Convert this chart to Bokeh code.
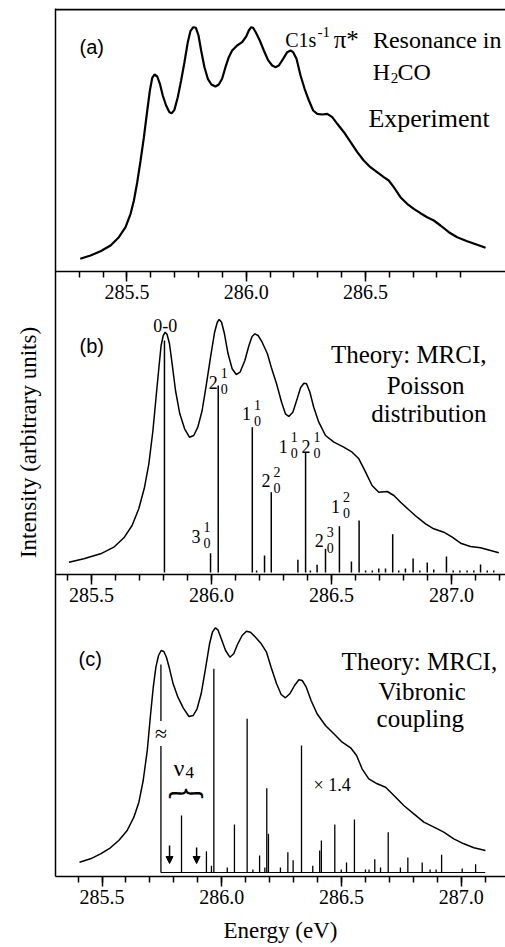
from bokeh.plotting import figure
from bokeh.models import (Range1d, LinearAxis, SingleIntervalTicker, PrintfTickFormatter,
                          FixedTicker, Span, Label, Arrow, NormalHead, ColumnDataSource)
from bokeh.embed import file_html
from bokeh.resources import INLINE
from bokeh.core.properties import value

# ---------------- data ----------------
# (a) Experiment
exp_energy = [285.304, 285.347, 285.389, 285.431, 285.466, 285.494, 285.515, 285.529, 285.543,
              285.557, 285.571, 285.585, 285.596, 285.606, 285.615, 285.627, 285.638, 285.650,
              285.664, 285.678, 285.688, 285.699, 285.713, 285.727, 285.741, 285.755, 285.766,
              285.778, 285.789, 285.800, 285.811, 285.825, 285.839, 285.854, 285.871, 285.885,
              285.899, 285.913, 285.927, 285.941, 285.962, 285.983, 286.000, 286.011, 286.021,
              286.029, 286.040, 286.057, 286.074, 286.091, 286.109, 286.123, 286.137, 286.155,
              286.172, 286.186, 286.197, 286.211, 286.228, 286.245, 286.263, 286.281, 286.298,
              286.319, 286.340, 286.361, 286.382, 286.410, 286.438, 286.466, 286.493, 286.521,
              286.549, 286.577, 286.598, 286.619, 286.647, 286.675, 286.703, 286.731, 286.759,
              286.787, 286.815, 286.850, 286.885, 286.927, 286.969, 287.004]
exp_intensity = [12.7, 16, 20.3, 26, 34.3, 44.3, 57.7, 71, 89.3,
                 111, 134.3, 161, 181, 193.7, 197, 195, 187.7, 176,
                 166, 159.3, 158.3, 161.7, 174.3, 191, 209.3, 229.3, 240.3,
                 244.3, 243.7, 236, 221, 204.3, 192.7, 187, 185, 187,
                 192.7, 204.3, 214.3, 221, 226, 229.3, 235, 241, 244.3,
                 243.7, 239.3, 231, 221, 211.7, 206, 204.3, 206, 212.7,
                 219.3, 221, 219.3, 212.7, 196, 182.7, 171, 161, 157.7,
                 157, 157.7, 154.3, 147.7, 139.3, 129.3, 119.3, 111, 104.3,
                 99.3, 94.3, 91, 84.3, 74.3, 67.7, 62.7, 58.3, 54.3,
                 51, 46, 39.3, 34.3, 30.3, 26.7, 23.7]

# (b) Theory: MRCI, Poisson distribution
poi_energy = [285.406, 285.468, 285.538, 285.593, 285.635, 285.669, 285.697, 285.721, 285.739,
              285.756, 285.769, 285.781, 285.790, 285.799, 285.807, 285.815, 285.825, 285.836,
              285.850, 285.868, 285.888, 285.908, 285.926, 285.943, 285.961, 285.979, 285.996,
              286.013, 286.024, 286.032, 286.042, 286.054, 286.069, 286.086, 286.103, 286.119,
              286.139, 286.156, 286.169, 286.181, 286.194, 286.211, 286.233, 286.249, 286.271,
              286.292, 286.308, 286.322, 286.339, 286.357, 286.371, 286.385, 286.396, 286.410,
              286.426, 286.447, 286.475, 286.510, 286.551, 286.586, 286.614, 286.642, 286.669,
              286.697, 286.732, 286.760, 286.788, 286.822, 286.857, 286.892, 286.926, 286.968,
              287.003, 287.038, 287.079, 287.121, 287.163, 287.197]
poi_intensity = [10.3, 13.7, 18.7, 25.3, 34.7, 47, 63.7, 85.3, 108.7,
                 142, 175.3, 205.3, 227, 237, 240.3, 238, 228.7, 208.7,
                 182, 158.7, 143.7, 135.3, 137, 145.3, 162, 188.7, 215.3,
                 240.3, 250.3, 253, 250.3, 238.7, 218.7, 203.7, 198, 200.3,
                 212, 227, 236, 238.7, 237, 230.3, 218.7, 205.3, 188.7,
                 170.3, 158.7, 156, 160.3, 173.7, 184.7, 189.3, 188.7, 180.3,
                 165.3, 150.3, 137, 130.3, 125.3, 120.3, 113.7, 100.3, 87,
                 80.3, 81, 77, 70.3, 62.7, 55.3, 48.7, 43.7, 40.3,
                 35.3, 29.3, 26, 24.7, 22, 19.7]
poi_stick_energy = [285.804, 285.996, 286.028, 286.170, 286.188, 286.221, 286.249, 286.360,
                    286.392, 286.412, 286.440, 286.475, 286.533, 286.583, 286.615, 286.642,
                    286.670, 286.697, 286.725, 286.755, 286.780, 286.808, 286.840, 286.868,
                    286.899, 286.926, 286.979, 287.007, 287.035, 287.065, 287.093, 287.121,
                    287.149, 287.176]
poi_stick_height = [232, 19.3, 187, 145.3, 2, 17, 80.3, 12.7,
                    120.3, 2, 7.7, 23.7, 46.3, 11, 52, 2,
                    2, 4, 4, 38.3, 2, 4, 14, 2,
                    10, 3, 16, 2, 2, 2, 2, 8,
                    2, 2]
# progression labels  main_sub^sup
lab_main = ["2", "1", "2", "1", "2", "3", "2", "1"]
lab_sup = ["1", "1", "2", "1", "1", "1", "3", "2"]
lab_sub = ["0", "0", "0", "0", "0", "0", "0", "0"]
lab_energy = [286.026, 286.165, 286.246, 286.318, 286.413, 285.954, 286.468, 286.535]
lab_height = [190.3, 158.7, 92, 126.2, 126.2, 36.2, 32, 66.2]

# (c) Theory: MRCI, Vibronic coupling
vib_energy = [285.406, 285.452, 285.494, 285.535, 285.570, 285.605, 285.633, 285.654, 285.672,
              285.689, 285.703, 285.714, 285.725, 285.736, 285.747, 285.758, 285.769, 285.782,
              285.797, 285.817, 285.839, 285.863, 285.881, 285.897, 285.914, 285.932, 285.949,
              285.961, 285.973, 285.984, 285.998, 286.016, 286.034, 286.050, 286.067, 286.085,
              286.103, 286.120, 286.141, 286.165, 286.187, 286.206, 286.229, 286.248, 286.266,
              286.284, 286.304, 286.322, 286.336, 286.353, 286.373, 286.398, 286.433, 286.468,
              286.503, 286.538, 286.563, 286.586, 286.614, 286.649, 286.684, 286.719, 286.760,
              286.802, 286.844, 286.886, 286.927, 286.969, 287.011, 287.053, 287.101]
vib_intensity = [10.3, 13.7, 18.7, 24.7, 32, 42, 55.3, 70.3, 92,
                 122, 158.7, 185.3, 205.3, 217, 222, 221, 215.3, 203.7,
                 188.7, 175.3, 164.7, 156, 157, 163.7, 178.7, 203.7, 228.7,
                 240.3, 244.7, 242.7, 233.7, 222, 215.3, 218.7, 228.7, 237,
                 241.3, 240.3, 235.3, 228.7, 220.3, 205.3, 188.7, 178, 174.7,
                 178.7, 187, 192.7, 192, 185.3, 172, 158.7, 147, 138.7,
                 130.3, 124.7, 117, 103.7, 93.7, 88.7, 85.3, 77, 67,
                 58.7, 50.3, 45.3, 40.3, 33.7, 28.7, 24.7, 22]
vib_stick_energy = [285.746, 285.832, 285.936, 285.957, 285.967, 286.023, 286.053, 286.106,
                    286.130, 286.158, 286.180, 286.188, 286.195, 286.245, 286.276, 286.298,
                    286.333, 286.380, 286.409, 286.416, 286.472, 286.499, 286.521, 286.554,
                    286.600, 286.615, 286.639, 286.663, 286.695, 286.746, 286.777, 286.837,
                    286.870, 286.895, 286.918, 287.004, 287.060]
vib_stick_height = [208, 57, 21.3, 6.7, 203.7, 5, 48, 153.7,
                    3, 17, 5, 84.3, 38.7, 5, 20.3, 12.3,
                    127, 6.7, 22, 32, 48, 3, 10, 53,
                    3, 3, 13.3, 5, 40.3, 5, 15, 10,
                    3, 3, 17.7, 4, 8.3]
vib_baseline_end = 287.10
nu4_arrow_energy = [285.782, 285.895]

# ---------------- layout constants ----------------
W, H = 505, 947
FRAME_TOP, FRAME_BOTTOM = 8, 876          # page px
BASE_A, BASE_B, BASE_C = 271, 572, 872    # page px of panel baselines


def yband(base):
    return Range1d(start=base - FRAME_BOTTOM, end=base - FRAME_TOP)


xa = Range1d(285.2001, 287.0877)
xb = Range1d(285.35, 287.225)
xc = Range1d(285.3058, 287.1848)

p = figure(width=W, height=H, output_backend="svg", toolbar_location=None,
           x_range=xc, y_range=yband(BASE_C),
           x_axis_location=None, y_axis_location=None,
           min_border_left=55, min_border_right=0, min_border_top=FRAME_TOP,
           min_border_bottom=H - FRAME_BOTTOM)
p.extra_x_ranges = {"xa": xa, "xb": xb}
p.extra_y_ranges = {"ya": yband(BASE_A), "yb": yband(BASE_B)}
p.outline_line_color = None
p.background_fill_color = "white"
p.border_fill_color = "white"
p.grid.visible = False

SERIF = "Liberation Serif"
SANS = "Liberation Sans"


def xaxis(**kw):
    return LinearAxis(ticker=SingleIntervalTicker(interval=0.5, num_minor_ticks=5),
                      formatter=PrintfTickFormatter(format="%.1f"),
                      major_tick_out=10, major_tick_in=0, minor_tick_out=6, minor_tick_in=0,
                      major_tick_line_width=1.5, minor_tick_line_width=1.5,
                      axis_line_width=1.5, axis_line_color="black",
                      major_tick_line_color="black", minor_tick_line_color="black",
                      major_label_text_font=SERIF, major_label_text_font_size="20px",
                      major_label_text_color="black",
                      major_label_standoff=3, **kw)


ax_a = xaxis(x_range_name="xa", y_range_name="ya", fixed_location=0,
             bounds=(285.3, 286.9))
ax_a.axis_line_color = None
ax_b = xaxis(x_range_name="xb", y_range_name="yb", fixed_location=BASE_B - 574)
ax_c = xaxis(axis_label="Energy (eV)", axis_label_text_font=SERIF,
             axis_label_text_font_size="23px", axis_label_text_font_style="normal",
             axis_label_text_color="black", axis_label_standoff=11)
p.add_layout(ax_a, "below")
p.add_layout(ax_b, "below")
p.add_layout(ax_c, "below")

yax = LinearAxis(ticker=FixedTicker(ticks=[]), axis_label="Intensity (arbitrary units)",
                 axis_label_text_font=SERIF, axis_label_text_font_size="23px",
                 axis_label_text_font_style="normal", axis_label_text_color="black",
                 axis_label_standoff=15,
                 axis_line_width=1.5, axis_line_color="black",
                 major_tick_out=0, major_tick_in=0,
                 minor_tick_out=0, minor_tick_in=0, major_label_standoff=0)
p.add_layout(yax, "left")

# frame top line and axis (a) full-width line
p.add_layout(Span(location=BASE_A - FRAME_TOP - 1, dimension="width", y_range_name="ya",
                  line_color="black", line_width=2))
p.add_layout(Span(location=0, dimension="width", y_range_name="ya",
                  line_color="black", line_width=1.5))

# ---------------- panel (a) ----------------
p.line(exp_energy, exp_intensity, x_range_name="xa", y_range_name="ya",
       line_color="black", line_width=2.2)

# ---------------- panel (b) ----------------
p.line(poi_energy, poi_intensity, x_range_name="xb", y_range_name="yb",
       line_color="black", line_width=1.5)
p.segment(x0=poi_stick_energy, y0=[0] * len(poi_stick_energy), x1=poi_stick_energy,
          y1=poi_stick_height, x_range_name="xb", y_range_name="yb",
          line_color="black", line_width=1.5)

lab_src = ColumnDataSource(dict(x=lab_energy, y=lab_height, main=lab_main,
                                sup=lab_sup, sub=lab_sub))
p.text(x="x", y="y", text="main", source=lab_src, x_range_name="xb", y_range_name="yb",
       text_font=value(SERIF), text_font_size="18px", text_align="right",
       text_baseline="middle", text_color="black")
p.text(x="x", y="y", text="sup", source=lab_src, x_range_name="xb", y_range_name="yb",
       text_font=value(SERIF), text_font_size="14px", text_align="left",
       text_baseline="middle", x_offset=3, y_offset=-9, text_color="black")
p.text(x="x", y="y", text="sub", source=lab_src, x_range_name="xb", y_range_name="yb",
       text_font=value(SERIF), text_font_size="14px", text_align="left",
       text_baseline="middle", x_offset=3, y_offset=7, text_color="black")

# ---------------- panel (c) ----------------
p.line(vib_energy, vib_intensity, line_color="black", line_width=1.5)
p.segment(x0=vib_stick_energy, y0=[0] * len(vib_stick_energy), x1=vib_stick_energy,
          y1=vib_stick_height, line_color="black", line_width=1.3)
p.segment(x0=[vib_stick_energy[0]], y0=[0], x1=[vib_baseline_end], y1=[0],
          line_color="black", line_width=1)
arr_src = ColumnDataSource(dict(x=nu4_arrow_energy, y0=[27, 25], y1=[9, 9]))
p.add_layout(Arrow(end=NormalHead(size=7, fill_color="black", line_color="black"),
                   x_start="x", y_start="y0", x_end="x", y_end="y1", source=arr_src,
                   line_color="black", line_width=1.5))


def lab(text, x, y, rx, ry, size, font=SERIF, align="left", baseline="alphabetic", **kw):
    kwargs = {}
    if rx:
        kwargs["x_range_name"] = rx
    if ry:
        kwargs["y_range_name"] = ry
    p.add_layout(Label(x=x, y=y, text=text, text_font=font, text_font_size=size,
                       text_align=align, text_baseline=baseline, text_color="black",
                       **kwargs, **kw))


# panel (a) texts
lab("C1s", 286.294, 231.7, "xa", "ya", "20px", align="right")
lab("(a)", 285.301, 224.3, "xa", "ya", "20px", font=SANS, baseline="middle")
lab("-1", 286.299, 239.3, "xa", "ya", "15px")
lab("π*", 286.367, 231.7, "xa", "ya", "25px")
lab("Resonance in", 287.071, 231.7, "xa", "ya", "24px", align="right")
lab("H", 286.604, 199.3, "xa", "ya", "24px", align="right")
lab("2", 286.606, 193.7, "xa", "ya", "15px")
lab("CO", 286.635, 199.3, "xa", "ya", "24px")
lab("Experiment", 286.767, 152.7, "xa", "ya", "26px", align="center")

# panel (b) texts
lab("(b)", 285.45, 227, "xb", "yb", "20px", font=SANS, baseline="middle")
lab("0-0", 285.807, 247, "xb", "yb", "18px", align="center", baseline="middle")
lab("Theory: MRCI,", 287.146, 217.7, "xb", "yb", "25px", align="right")
lab("Poisson", 286.892, 187, "xb", "yb", "25px", align="center")
lab("distribution", 287.146, 158.7, "xb", "yb", "25px", align="right")

# panel (c) texts
lab("(c)", 285.402, 214, None, None, "20px", font=SANS, baseline="middle")
lab("Theory: MRCI,", 287.150, 211, None, None, "25px", align="right")
lab("Vibronic", 286.837, 181.3, None, None, "25px", align="center")
lab("coupling", 286.829, 153.7, None, None, "25px", align="center")
lab("ν", 285.7985, 104.5, None, None, "24px", baseline="middle")
lab("4", 285.8486, 100, None, None, "17px", baseline="middle")
lab("\ufe37", 285.851, 94, None, None, "36px", font="Noto Sans CJK JP", align="center",
    baseline="middle")
lab("× 1.4", 286.383, 88, None, None, "18px", baseline="middle")
lab("≈", 285.746, 139, None, None, "22px", align="center", baseline="middle",
    background_fill_color="white")

open("out.html", "w").write(file_html(p, INLINE))
